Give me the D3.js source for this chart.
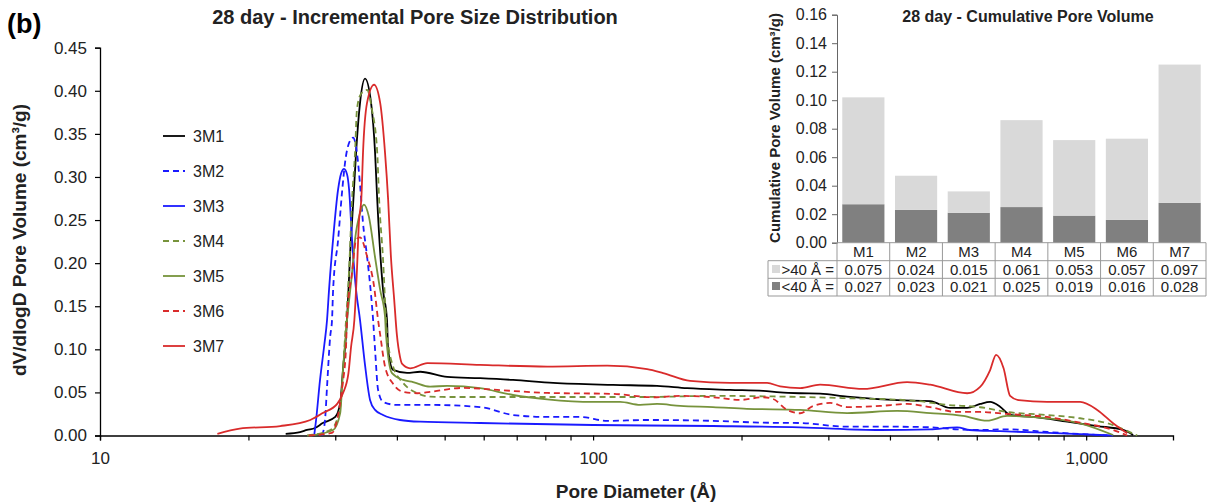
<!DOCTYPE html>
<html>
<head>
<meta charset="utf-8">
<script src="https://cdn.jsdelivr.net/npm/d3@7"></script>
<style>
  body { margin: 0; background: #fff; }
  svg { font-family: "Liberation Sans", Arial, sans-serif; }
</style>
</head>
<body>
<svg id="chart" width="1208" height="504"></svg>
<script>
// ---- incremental pore size distribution, [pore diameter (Å), dV/dlogD (cm3/g)] ----
var s3M1 = [[23.8,0.002],[25.45,0.004],[26.3,0.0064],[27.3,0.0087],[28.3,0.0145],[30.0,0.0215],[30.7,0.0378],
  [31.1,0.0762],[31.7,0.134],[32.15,0.21],[32.7,0.28],[33.06,0.328],[33.68,0.386],[34.47,0.414],[35.46,0.386],
  [36.13,0.328],[36.47,0.277],[37.5,0.169],[38.2,0.134],[38.4,0.0994],[39.3,0.0762],[41.95,0.0727],[44.6,0.074],
  [50.6,0.068],[59.0,0.0665],[68.8,0.0645],[83,0.061],[109.8,0.0587],[134.8,0.0576],[155.1,0.0549],[189.6,0.0529],
  [221.2,0.0517],[239.5,0.05],[263,0.049],[288.7,0.0485],[327.5,0.045],[413.6,0.041],[482.6,0.040],[530,0.032],
  [573.6,0.032],[609.5,0.0366],[638.6,0.039],[669,0.0335],[701,0.0238],[780.6,0.0215],[915,0.016],[1053,0.011],
  [1189,0.0064],[1245,0.0006]];
var s3M2 = [[28.2,0],[28.6,0.018],[28.87,0.0567],[29.3,0.115],[29.55,0.134],[29.7,0.169],[30.4,0.227],[31.0,0.2855],
  [31.4,0.3165],[31.85,0.336],[32.6,0.3456],[33.2,0.328],[33.7,0.2893],[34.15,0.2467],[34.8,0.208],[35.46,0.163],
  [35.8,0.134],[36.13,0.0994],[36.64,0.053],[37.5,0.039],[40.0,0.0355],[46.7,0.0355],[59,0.033],[68.8,0.0238],
  [80.7,0.0215],[94.1,0.0215],[106.8,0.017],[128.7,0.018],[175,0.017],[221.2,0.0149],[263,0.0145],[327.5,0.0102],
  [413.6,0.0102],[482.6,0.0095],[547.4,0.0072],[609.5,0.0064],[691.5,0.0072],[833.4,0.0041],[972.3,0.0017],[1103,0]];
var s3M3 = [[27.2,0.001],[27.43,0.018],[27.94,0.0645],[28.5,0.105],[28.87,0.134],[29.14,0.169],[29.69,0.227],
  [30.4,0.2855],[30.83,0.304],[31.26,0.3095],[31.7,0.303],[32.0,0.2855],[32.45,0.227],[33.06,0.169],[33.68,0.134],
  [34.47,0.082],[35.29,0.0413],[36.13,0.0297],[37.5,0.0238],[40.6,0.018],[44.6,0.016],[59,0.0145],[100,0.0122],
  [175,0.011],[263,0.0095],[382,0.0064],[482.6,0.0072],[547.4,0.0095],[580,0.0064],[669,0.005],[972,0.0017],[1134,0]];
var s3M4 = [[26.3,0],[29.3,0.0064],[30.4,0.0219],[31.0,0.0567],[31.4,0.115],[32.0,0.192],[32.45,0.274],[32.9,0.328],
  [33.2,0.3785],[33.8,0.396],[34.8,0.401],[35.6,0.3785],[36.5,0.328],[36.8,0.277],[37.5,0.204],[38.0,0.138],
  [38.2,0.119],[39.3,0.08],[41.2,0.061],[44,0.049],[46.7,0.045],[50.6,0.0447],[68.8,0.0447],[94.1,0.0447],
  [128.7,0.0447],[175,0.046],[263,0.0447],[327.5,0.0433],[445.6,0.0405],[522.6,0.0355],[609.5,0.0328],
  [691.5,0.0272],[833.4,0.0238],[972.3,0.02],[1103,0.0142],[1269,0]];
var s3M5 = [[26.7,0],[29.7,0.0064],[30.7,0.026],[31.1,0.076],[31.7,0.134],[32.45,0.189],[32.9,0.227],[33.7,0.2584],
  [34.3,0.268],[35.1,0.254],[36.1,0.208],[37.0,0.169],[37.85,0.138],[38.0,0.119],[39.1,0.0723],[41.2,0.0645],
  [43.15,0.062],[46.7,0.0567],[50.6,0.0576],[59,0.055],[68.8,0.047],[80.7,0.042],[100,0.039],[113.4,0.039],
  [124.6,0.0355],[134.8,0.0366],[150.2,0.0343],[175,0.033],[205,0.031],[263,0.0297],[327.5,0.026],[413.6,0.0285],
  [482.6,0.026],[563,0.0227],[629.7,0.0172],[691.5,0.0227],[833.4,0.02],[972.3,0.0142],[1134,0.0006]];
var s3M6 = [[26.5,0],[29.55,0.003],[30.25,0.018],[31.0,0.0567],[31.55,0.103],[31.7,0.138],[32.45,0.189],[33.06,0.227],
  [33.68,0.230],[34.8,0.208],[35.96,0.173],[36.64,0.134],[37.0,0.117],[37.85,0.08],[39.3,0.06],[41.2,0.0506],
  [44,0.049],[46.7,0.0506],[54.5,0.0552],[63.9,0.0529],[80.7,0.0494],[109.8,0.0483],[132.3,0.0444],[150.2,0.0459],
  [175,0.0444],[198.7,0.0413],[221.2,0.0444],[231.8,0.0424],[247.5,0.0297],[263,0.0258],[279.4,0.0343],
  [302.5,0.0378],[327.5,0.033],[382,0.0343],[433.4,0.0366],[482.6,0.0328],[547.4,0.0273],[609.5,0.0273],
  [691.5,0.025],[833.4,0.0215],[972.3,0.0149],[1134,0.0064],[1211,0]];
var s3M7 = [[17.3,0.002],[19.2,0.008],[23.2,0.011],[26.7,0.018],[28.3,0.026],[30.3,0.037],[31.1,0.049],[31.9,0.072],
  [32.3,0.103],[32.8,0.134],[33.2,0.192],[33.5,0.247],[33.9,0.277],[34.15,0.328],[34.8,0.386],[35.96,0.407],
  [37.0,0.386],[37.85,0.328],[38.4,0.274],[38.9,0.208],[39.5,0.158],[40.0,0.117],[40.6,0.091],[41.0,0.083],
  [42.55,0.078],[46.1,0.084],[59.0,0.082],[80.7,0.080],[106.8,0.081],[128.7,0.077],[138.7,0.0725],[157.3,0.0634],
  [189.6,0.061],[225.4,0.061],[239.5,0.057],[263,0.055],[288.7,0.059],[352.9,0.054],[433.4,0.062],[482.6,0.059],
  [573.6,0.049],[609.5,0.0565],[638.6,0.076],[656.7,0.0936],[680,0.078],[701,0.046],[730,0.041],[833.4,0.039],
  [972.3,0.039],[1053,0.0297],[1134,0.0142],[1211,0.0026]];

var seriesNames = ["3M1", "3M2", "3M3", "3M4", "3M5", "3M6", "3M7"];
var seriesData = [s3M1, s3M2, s3M3, s3M4, s3M5, s3M6, s3M7];
var seriesColor = ["#000000", "#1a1aff", "#1a1aff", "#77933c", "#77933c", "#d92b2b", "#d92b2b"];
var seriesDashed = [false, true, false, true, false, true, false];

var yTicks = [0, 0.05, 0.10, 0.15, 0.20, 0.25, 0.30, 0.35, 0.40, 0.45];
var xMajor = [10, 100, 1000];

// ---- cumulative pore volume inset ----
var samples = ["M1", "M2", "M3", "M4", "M5", "M6", "M7"];
var over40 = [0.075, 0.024, 0.015, 0.061, 0.053, 0.057, 0.097];
var under40 = [0.027, 0.023, 0.021, 0.025, 0.019, 0.016, 0.028];
var insetTicks = [0, 0.02, 0.04, 0.06, 0.08, 0.10, 0.12, 0.14, 0.16];

var svg = d3.select("#chart");

// ================= main chart =================
var x = d3.scaleLog().domain([10, 1500]).range([100, 1173]);
var y = d3.scaleLinear().domain([0, 0.45]).range([435.5, 47.7]);

var xTickVals = [];
[10, 100, 1000].forEach(function(dec){
  for (var k = 1; k <= 9; k++) { if (dec * k <= 1500) xTickVals.push(dec * k); }
});

var xAxis = d3.axisBottom(x)
  .tickValues(xTickVals)
  .tickSize(5)
  .tickPadding(11)
  .tickFormat(function(d){ return xMajor.indexOf(d) >= 0 ? d3.format(",")(d) : ""; });

var gx = svg.append("g")
  .attr("transform", "translate(0," + y(0) + ")")
  .call(xAxis);
gx.select(".domain").attr("stroke", "#000").attr("stroke-width", 1.3);
gx.selectAll(".tick line").attr("stroke", "#000").attr("stroke-width", 1.2);
gx.selectAll("text").style("font-size", "17px").attr("fill", "#222");

var yAxis = d3.axisLeft(y)
  .tickValues(yTicks)
  .tickSize(5)
  .tickPadding(8)
  .tickFormat(d3.format(".2f"));

var gy = svg.append("g")
  .attr("transform", "translate(" + x(10) + ",0)")
  .call(yAxis);
gy.select(".domain").attr("stroke", "#000").attr("stroke-width", 1.3);
gy.selectAll(".tick line").attr("stroke", "#000").attr("stroke-width", 1.2);
gy.selectAll("text").style("font-size", "17px").attr("fill", "#222");

var line = d3.line()
  .x(function(d){ return x(d[0]); })
  .y(function(d){ return y(d[1]); })
  .curve(d3.curveMonotoneX);

seriesData.forEach(function(s, i){
  svg.append("path")
    .datum(s)
    .attr("fill", "none")
    .attr("stroke", seriesColor[i])
    .attr("stroke-width", 1.8)
    .attr("stroke-dasharray", seriesDashed[i] ? "6,4" : null)
    .attr("d", line);
});

// legend
var legend = svg.append("g").selectAll("g")
  .data(seriesNames)
  .enter().append("g")
  .attr("transform", function(d, i){ return "translate(163," + (136 + i * 35) + ")"; });

legend.append("line")
  .attr("x1", 0).attr("x2", 22)
  .attr("stroke", function(d, i){ return seriesColor[i]; })
  .attr("stroke-width", 1.8)
  .attr("stroke-dasharray", function(d, i){ return seriesDashed[i] ? "6,4" : null; });

legend.append("text")
  .attr("x", 30).attr("dy", "0.35em")
  .style("font-size", "16px").attr("fill", "#222")
  .text(function(d){ return d; });

// titles
svg.append("text")
  .attr("x", 7).attr("y", 33)
  .style("font-size", "27px").style("font-weight", "bold")
  .text("(b)");

svg.append("text")
  .attr("x", 415).attr("y", 24)
  .attr("text-anchor", "middle")
  .style("font-size", "20px").style("font-weight", "bold").attr("fill", "#222")
  .text("28 day - Incremental Pore Size Distribution");

svg.append("text")
  .attr("transform", "translate(26," + 240 + ") rotate(-90)")
  .attr("text-anchor", "middle")
  .style("font-size", "19px").style("font-weight", "bold").attr("fill", "#222")
  .text("dV/dlogD Pore Volume (cm³/g)");

svg.append("text")
  .attr("x", 636).attr("y", 498)
  .attr("text-anchor", "middle")
  .style("font-size", "19px").style("font-weight", "bold").attr("fill", "#222")
  .text("Pore Diameter (Å)");

// ================= inset: cumulative pore volume =================
var table = samples.map(function(s, i){ return { sample: s, lt40: under40[i], gt40: over40[i] }; });
var stack = d3.stack().keys(["lt40", "gt40"])(table);
var stackColor = { lt40: "#808080", gt40: "#d9d9d9" };

var xb = d3.scaleBand().domain(samples).range([837, 1206]).paddingInner(0.2).paddingOuter(0.1);
var yb = d3.scaleLinear().domain([0, 0.16]).range([242.7, 14.7]);

svg.append("g").selectAll("g")
  .data(stack)
  .enter().append("g")
  .attr("fill", function(d){ return stackColor[d.key]; })
  .selectAll("rect")
  .data(function(d){ return d; })
  .enter().append("rect")
  .attr("x", function(d){ return xb(d.data.sample); })
  .attr("width", xb.bandwidth())
  .attr("y", function(d){ return yb(d[1]); })
  .attr("height", function(d){ return yb(d[0]) - yb(d[1]); });

var gyb = svg.append("g")
  .attr("transform", "translate(837,0)")
  .call(d3.axisLeft(yb).tickValues(insetTicks).tickSize(5).tickPadding(5).tickFormat(d3.format(".2f")));
gyb.select(".domain").attr("stroke", "#666");
gyb.selectAll(".tick line").attr("stroke", "#666");
gyb.selectAll("text").style("font-size", "16px").attr("fill", "#222");

svg.append("text")
  .attr("x", 1028).attr("y", 22)
  .attr("text-anchor", "middle")
  .style("font-size", "16px").style("font-weight", "bold").attr("fill", "#222")
  .text("28 day - Cumulative Pore Volume");

svg.append("text")
  .attr("transform", "translate(780,128) rotate(-90)")
  .attr("text-anchor", "middle")
  .style("font-size", "15px").style("font-weight", "bold").attr("fill", "#222")
  .text("Cumulative Pore Volume (cm³/g)");

// data table under the inset
var step = xb.step();
var rowTop = [242.7, 260.7, 278.3, 296];
var tbl = svg.append("g").attr("stroke", "#999").attr("stroke-width", 1).attr("fill", "none");
tbl.append("line").attr("x1", 837).attr("x2", 1206).attr("y1", rowTop[0]).attr("y2", rowTop[0]);
tbl.append("line").attr("x1", 768).attr("x2", 1206).attr("y1", rowTop[1]).attr("y2", rowTop[1]);
tbl.append("line").attr("x1", 768).attr("x2", 1206).attr("y1", rowTop[2]).attr("y2", rowTop[2]);
tbl.append("line").attr("x1", 768).attr("x2", 1206).attr("y1", rowTop[3]).attr("y2", rowTop[3]);
tbl.append("line").attr("x1", 768).attr("x2", 768).attr("y1", rowTop[1]).attr("y2", rowTop[3]);
d3.range(samples.length + 1).forEach(function(k){
  var xx = 837 + k * step;
  tbl.append("line").attr("x1", xx).attr("x2", xx).attr("y1", rowTop[0]).attr("y2", rowTop[3]);
});

svg.append("g").selectAll("text")
  .data(samples)
  .enter().append("text")
  .attr("x", function(d){ return xb(d) + xb.bandwidth() / 2; })
  .attr("y", 257)
  .attr("text-anchor", "middle")
  .style("font-size", "15px").attr("fill", "#222")
  .text(function(d){ return d; });

var rows = [
  { label: ">40 Å =", values: over40, color: stackColor.gt40, y: 275 },
  { label: "<40 Å =", values: under40, color: stackColor.lt40, y: 292 }
];
rows.forEach(function(r){
  svg.append("rect")
    .attr("x", 772).attr("y", r.y - 10).attr("width", 8).attr("height", 8)
    .attr("fill", r.color);
  svg.append("text")
    .attr("x", 834).attr("y", r.y)
    .attr("text-anchor", "end")
    .style("font-size", "15px").attr("fill", "#222")
    .text(r.label);
  svg.append("g").selectAll("text")
    .data(r.values)
    .enter().append("text")
    .attr("x", function(d, i){ return xb(samples[i]) + xb.bandwidth() / 2; })
    .attr("y", r.y)
    .attr("text-anchor", "middle")
    .style("font-size", "15px").attr("fill", "#222")
    .text(function(d){ return d3.format(".3f")(d); });
});
</script>
</body>
</html>
